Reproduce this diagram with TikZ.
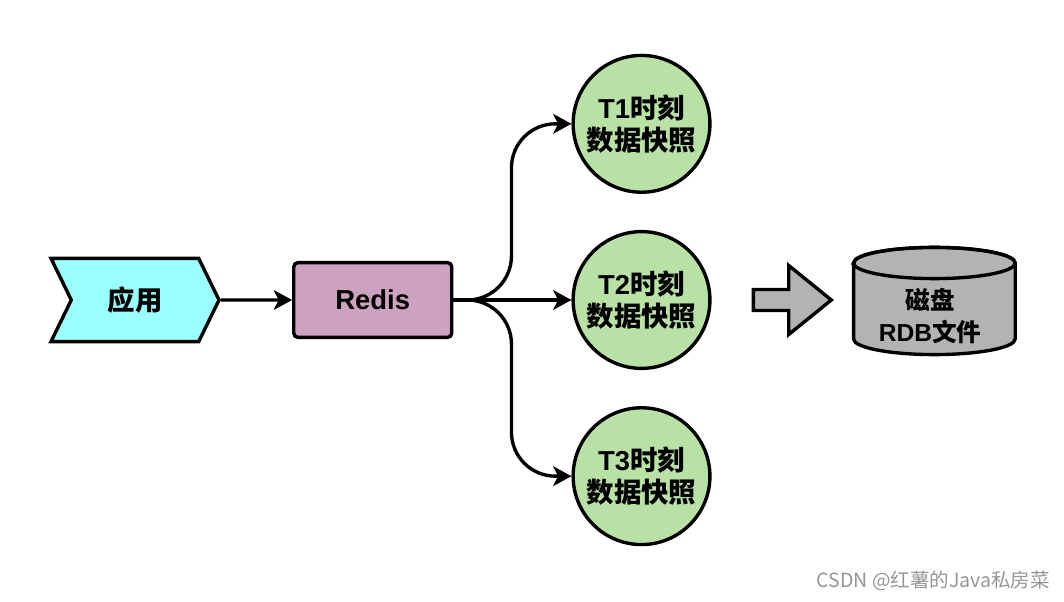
\documentclass[tikz,border=0pt]{standalone}
\usepackage{fontspec}
\setmainfont{Liberation Sans}
\newfontfamily\cjk{Noto Sans CJK SC}
\usetikzlibrary{arrows.meta, positioning, shapes.symbols, shapes.arrows}

\definecolor{appcyan}{RGB}{153,255,255}
\definecolor{redispink}{RGB}{205,162,190}
\definecolor{snapgreen}{RGB}{185,224,165}
\definecolor{diskgray}{RGB}{179,179,179}
\definecolor{markgray}{RGB}{150,150,150}

\begin{document}
\begin{tikzpicture}[
    node distance=0.9cm and 2.95cm,
    arr/.style={-{Stealth[length=13pt, width=14pt, inset=3.5pt]}, line width=2.4pt},
    box/.style={draw, line width=2.4pt, font=\bfseries\fontsize{19.5}{22.5}\selectfont, align=center, inner sep=0pt},
    snap/.style={box, circle, fill=snapgreen, minimum size=3.42cm},
]
\useasboundingbox (0,0) rectangle (26.6,-15.05);

    \node[box, signal, signal from=west, signal to=east, signal pointer angle=128,
          fill=appcyan, minimum width=4.2cm, minimum height=2.08cm] (app) at (3.375,-7.5) {\cjk 应用};
    \node[box, rounded corners=3pt, fill=redispink, minimum width=3.95cm, minimum height=1.87cm,
          right=1.78cm of app] (redis) {Redis};

    \node[snap, right=of redis] (t2) {T2{\cjk 时刻}\\{\cjk 数据快照}};
    \node[snap, above=of t2] (t1) {T1{\cjk 时刻}\\{\cjk 数据快照}};
    \node[snap, below=of t2] (t3) {T3{\cjk 时刻}\\{\cjk 数据快照}};

    \node[draw, line width=2.4pt, fill=diskgray, single arrow, single arrow head extend=0.6cm,
          single arrow tip angle=78, minimum height=1.95cm, inner sep=0.22cm, right=1.0cm of t2] (dump) {};

    % disk
    \draw[line width=2.4pt, fill=diskgray] (21.34,-6.575) -- (21.34,-8.475)
        arc[start angle=180, end angle=360, x radius=2.02cm, y radius=0.39cm] -- (25.38,-6.575)
        arc[start angle=0, end angle=180, x radius=2.02cm, y radius=0.39cm] -- cycle;
    \draw[line width=2.4pt] (23.36,-6.575) ellipse [x radius=2.02cm, y radius=0.39cm];
    \node[font=\bfseries\fontsize{17.5}{22.5}\selectfont, align=center] (disk) at (23.25,-7.9) {{\cjk 磁盘}\\RDB{\cjk 文件}};

    \node[font=\cjk\fontsize{13.9}{16}\selectfont, text=markgray] (mark) at (23.33,-14.525) {CSDN @红薯的Java私房菜};

    \draw[arr] (app) -- (redis);
    \draw[arr] (redis) -- (t2);
    \draw[arr, rounded corners=1.1cm] (redis.east) -- ++(1.45,0) |- (t1);
    \draw[arr, rounded corners=1.1cm] (redis.east) -- ++(1.45,0) |- (t3);

\end{tikzpicture}
\end{document}
